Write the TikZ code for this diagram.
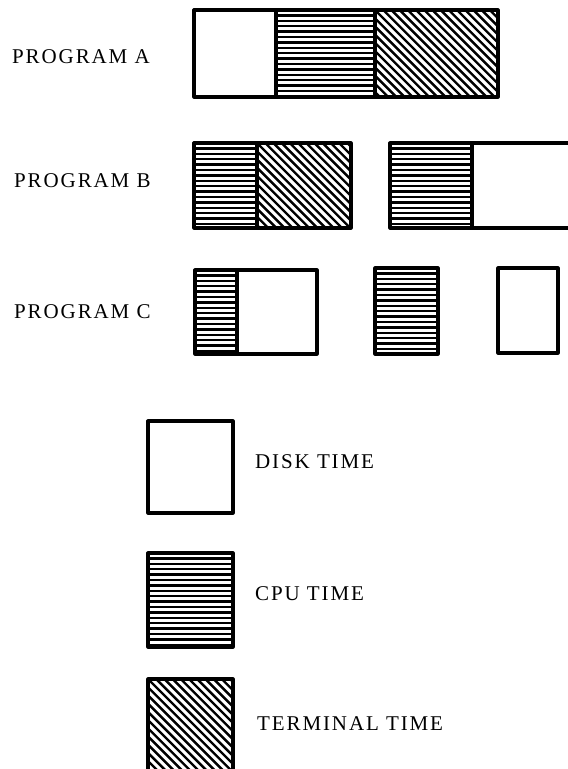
\documentclass[tikz,border=0pt]{standalone}
\usepackage{fontspec}
\setmainfont{Liberation Serif}[LetterSpace=9]

\begin{document}
\begin{tikzpicture}[x=1pt,y=-1pt,
  box/.style={draw=black,line width=3.2pt,line join=round},
  cputime/.style={box,path picture={
    \foreach \k in {0,...,20}
      \draw[line width=2.4pt] ([yshift=-\k*5.4pt]path picture bounding box.north west)
        -- ([yshift=-\k*5.4pt]path picture bounding box.north east);}},
  termtime/.style={box,path picture={
    \foreach \k in {-14,...,18}
      \draw[line width=2.4pt] ([xshift=\k*8.2pt]path picture bounding box.north west)
        -- ++(150pt,-150pt);}},
  disktime/.style={box,fill=white},
  txt/.style={anchor=west,inner sep=0pt,font=\fontsize{21}{24}\selectfont}]
\useasboundingbox (0,0) rectangle (568,769);
% program A
\node[txt] (proga) at (12,57) {PROGRAM A};
\draw[disktime] (194,10) rectangle (276,97);
\draw[cputime] (276,10) rectangle (375,97);
\draw[termtime] (375,10) rectangle (498,97);
% program B
\node[txt] (progb) at (14,181) {PROGRAM B};
\draw[cputime] (194,143) rectangle (257,228);
\draw[termtime] (257,143) rectangle (351,228);
\draw[cputime] (390,143) rectangle (472,228);
\draw[box] (472,143) -- (570,143);
\draw[box] (472,228) -- (570,228);
% program C
\node[txt] (progc) at (14,312) {PROGRAM C};
\draw[cputime] (195,270) rectangle (237,354);
\draw[disktime] (237,270) rectangle (317,354);
\draw[cputime] (375,268) rectangle (438,354);
\draw[disktime] (498,268) rectangle (558,353);
% key
\draw[disktime] (148,421) rectangle (233,513);
\node[txt] (disk) at (255,462) {DISK TIME};
\draw[cputime] (148,553) rectangle (233,647);
\node[txt] (cpu) at (255,594) {CPU TIME};
\path[termtime,draw=none] (148,679) rectangle (233,771);
\draw[box] (148,771) -- (148,679) -- (233,679) -- (233,771);
\node[txt] (term) at (257,724) {TERMINAL TIME};
\end{tikzpicture}
\end{document}
